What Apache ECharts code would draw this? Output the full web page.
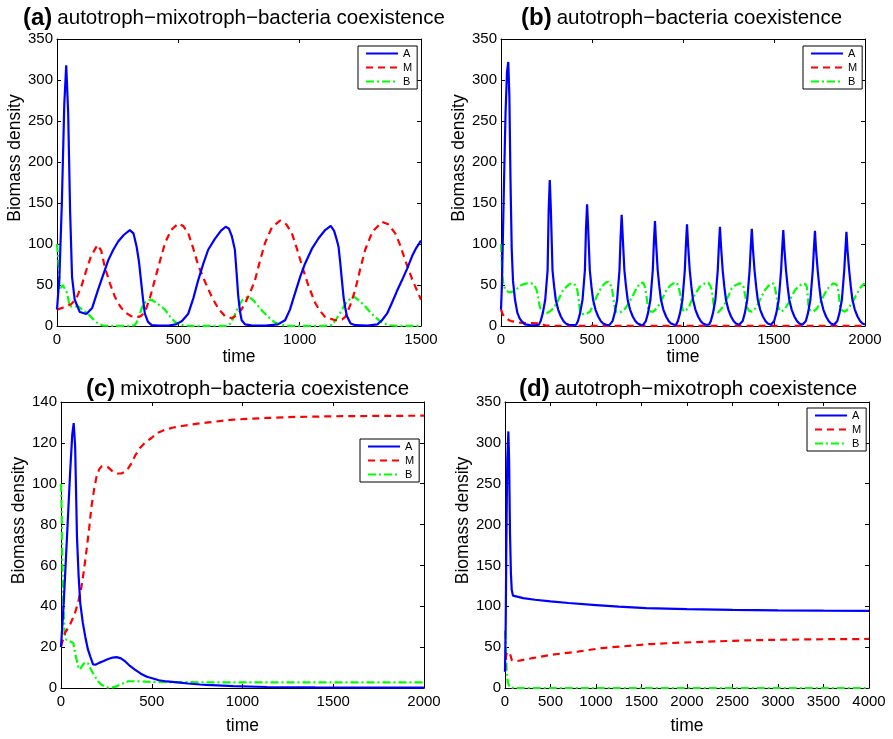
<!DOCTYPE html>
<html>
<head>
<meta charset="utf-8">
<script src="https://cdn.jsdelivr.net/npm/echarts@6/dist/echarts.min.js"></script>
<style>html,body{margin:0;padding:0;background:#fff}#chart{width:893px;height:739px}</style>
</head>
<body>
<div id="chart"></div>
<script>
// ---------- DATA ----------
// Panel (a): autotroph-mixotroph-bacteria coexistence, time 0..1500
const aA = [[0,20],[10,60],[20,150],[30,270],[38,318],[46,260],[54,140],[62,60],[73,32],[94,17],[121,14.6],[145,22],[169,44],[190,62],[211,80],[232,93],[252,103],[275,111],[300,117],[315,113],[328,97],[338,78],[346,56],[354,34],[362,15],[375,5],[390,1],[420,0.5],[460,0.6],[490,2],[515,6],[541,15],[562,34],[582,56],[603,76],[623,93],[650,106],[675,116],[695,121],[708,119],[720,110],[733,93],[740,65],[747,36],[754,18],[761,7],[775,2],[800,0.8],[860,0.5],[910,2],[940,7],[960,20],[981,40],[1002,60],[1022,76],[1050,94],[1078,107],[1105,117],[1128,122],[1142,116],[1152,106],[1160,97],[1167,78],[1174,56],[1181,35],[1188,22],[1195,12],[1210,3],[1230,1],[1280,0.5],[1320,2],[1339,7],[1360,15],[1380,28],[1400,42],[1422,56],[1443,70],[1463,85],[1480,95],[1500,104]];
const aM = [[0,20],[20,22],[40,24],[60,27],[80,34],[100,48],[121,68],[140,85],[167,99],[182,92],[197,72],[218,52],[238,36],[260,24],[280,17],[305,12],[328,10.6],[345,12],[362,17],[382,33],[403,56],[425,80],[445,101],[470,117],[500,125],[520,122],[541,113],[560,96],[582,74],[610,54],[637,36],[665,21],[692,12],[720,9.5],[740,13],[760,20],[775,28],[795,40],[816,56],[837,80],[857,101],[885,120],[919,128.6],[945,124],[968,113],[988,95],[1009,74],[1035,50],[1064,28],[1085,18],[1105,11],[1146,7],[1175,8],[1188,11],[1208,25],[1229,44],[1250,70],[1270,93],[1300,115],[1339,127],[1365,124],[1394,113],[1415,98],[1435,80],[1465,56],[1500,32]];
const aB = [[0,100],[4,99],[8,70],[11,44],[16,45],[24,50],[32,52],[42,40],[52,24],[70,24],[87,24],[105,20],[128,15],[150,8],[169,3],[190,0.5],[230,0.1],[300,0.1],[321,1],[335,8],[345,18],[355,26],[372,31],[390,32],[415,27],[445,20],[465,12],[486,5],[510,1.5],[530,0.3],[600,0.1],[700,0.2],[715,3],[730,12],[747,24],[765,32],[789,36],[810,31],[830,24],[850,17],[871,11],[895,5],[926,1],[960,0.2],[1100,0.2],[1133,1],[1150,8],[1165,15],[1174,20],[1195,30],[1222,36],[1245,31],[1270,24],[1290,17],[1311,11],[1335,5],[1366,1],[1400,0.2],[1500,0.1]];

// Panel (b): autotroph-bacteria coexistence, time 0..2000
const bA = [[0,20],[5,50],[9,93],[16,170],[25,260],[33,310],[40,322],[46,280],[52,180],[59,93],[66,55],[77,32],[90,16],[103,9],[117,5],[132,2],[160,1],[190,0.8],
 [208,1.5],[218,6],[230,16],[243,32],[256,68],[262,142],[268,178],[274,142],[283,68],[292,48],[301,32],[314,20],[329,11.6],[343,6],[356,3],[373,1.5],[390,1],
 [413,1.5],[423,6],[435,16],[448,32],[461,68],[467,119],[473,148.5],[479,119],[488,68],[497,48],[506,32],[519,20],[534,11.6],[548,6],[561,3],[578,1.5],[595,1],
 [603,1.5],[613,6],[625,16],[638,32],[651,68],[657,108],[663,135.5],[669,108],[678,68],[687,48],[696,32],[709,20],[724,11.6],[738,6],[751,3],[768,1.5],[780,1],
 [786,1.5],[796,6],[808,16],[821,32],[834,68],[840,102],[846,128],[852,102],[861,68],[870,48],[879,32],[892,20],[907,11.6],[921,6],[934,3],[951,1.5],
 [962,1.5],[972,6],[984,16],[997,32],[1010,68],[1016,99],[1022,124],[1028,99],[1037,68],[1046,48],[1055,32],[1068,20],[1083,11.6],[1097,6],[1110,3],[1127,1.5],
 [1143,1.5],[1153,6],[1165,16],[1178,32],[1191,68],[1197,97],[1203,121],[1209,97],[1218,68],[1227,48],[1236,32],[1249,20],[1264,11.6],[1278,6],[1291,3],[1308,1.5],
 [1318,1.5],[1328,6],[1340,16],[1353,32],[1366,68],[1372,95],[1378,118.5],[1384,95],[1393,68],[1402,48],[1411,32],[1424,20],[1439,11.6],[1453,6],[1466,3],[1483,1.5],
 [1491,1.5],[1501,6],[1513,16],[1526,32],[1539,68],[1545,94],[1551,117],[1557,94],[1566,68],[1575,48],[1584,32],[1597,20],[1612,11.6],[1626,6],[1639,3],[1656,1.5],
 [1665,1.5],[1675,6],[1687,16],[1700,32],[1713,68],[1719,93],[1725,116],[1731,93],[1740,68],[1749,48],[1758,32],[1771,20],[1786,11.6],[1800,6],[1813,3],[1830,1.5],
 [1838,1.5],[1848,6],[1860,16],[1873,32],[1886,68],[1892,92],[1898,115],[1904,92],[1913,68],[1922,48],[1931,32],[1944,20],[1959,11.6],[1973,6],[1986,3],[2000,1.8]];
const bM = [[0,20],[10,14],[20,11],[29,9],[45,7],[56,6],[80,5],[105,4],[130,3.5],[170,3.5],[203,3.3],[220,2.5],[230,1],[245,0.5],[300,0.3],[600,0.2],[1000,0.2],[1500,0.2],[2000,0.2]];
const bB = [[0,100],[4,80],[8,60],[14,50],[25,44],[45,41],[65,42],[85,45],[105,49],[123,51],[145,52],[169,52],[185,49],[196,44],[204,35],[211,26],[218,20],[224,17.5],[238,15.5],[251,15.5],[270,18],[288,21.6],[306,28],[324,36],[342,44],[361,48],[375,51],[389,52],[403,51.5],[412,50],[419,44],[425,36],[430,26],[434,17.5],[443,14.5],[452,13.4],[470,15],[489,17.5],[507,26],[526,36],[544,44],[562,50],[576,53],[590,54],[600,52],[608,48],[615,38],[621,27.7],[627,21],[632,17.5],[645,16.5],[663,17.5],[677,20],[691,24],[709,31],[727,38],[745,46],[764,52],[782,53],[790,48],[797,40],[803,30],[810,19.5],[823,17.5],[837,17.5],[856,22],[874,27.7],[892,36],[910,44],[928,49],[947,52],[965,53],[975,48],[984,40],[991,30],[998,19.5],[1011,17.5],[1020,17.5],[1034,24],[1048,31.6],[1070,40],[1093,48],[1116,51.5],[1139,53],[1150,49],[1158,44],[1165,32],[1172,19.5],[1194,16.8],[1212,21],[1231,27.7],[1250,37],[1268,46],[1290,50],[1313,52],[1330,50],[1337,48],[1343,36],[1350,23.6],[1363,18.5],[1378,17.5],[1396,21],[1414,27.7],[1432,36],[1451,44],[1470,49],[1487,52],[1500,51.5],[1506,50],[1513,38],[1520,25.6],[1530,19],[1542,17.5],[1560,21],[1579,27.7],[1597,36],[1616,44],[1638,49],[1661,52],[1673,51],[1680,48],[1685,38],[1689,25.6],[1700,19],[1716,17.5],[1735,21],[1753,27.7],[1771,36],[1790,44],[1808,49],[1826,52],[1840,51],[1850,48],[1857,36],[1863,23.6],[1875,19],[1890,17.5],[1908,21],[1927,27.7],[1950,37],[1973,46],[1987,50],[2000,52]];

// Panel (c): mixotroph-bacteria coexistence, time 0..2000
const cA = [[0,20],[15,41.6],[33,74],[50,105],[62,124],[70,129.7],[78,118],[88,74],[97,55],[106,41.6],[120,32],[134,25],[148,19],[161,15.5],[177,11.5],[190,11.4],[210,12.3],[235,13.2],[260,14.2],[285,14.9],[306,15.1],[330,14.5],[354,13],[380,10.8],[407,9],[440,7],[473,5.5],[498,4.9],[540,3.8],[583,3.2],[627,2.9],[700,2.2],[766,1.7],[801,1.5],[950,0.9],[1133,0.5],[1400,0.3],[1700,0.2],[2000,0.15]];
const cM = [[0,20.4],[22,27],[50,31],[77,36.7],[95,42],[113,49.7],[127,58],[141,67.7],[155,78],[168,88.9],[182,97],[196,103.6],[210,107],[223,108.5],[240,108.6],[260,108],[285,106],[310,105],[333,105],[355,106],[370,107.5],[388,110],[410,114],[435,117.5],[462,120],[500,122.5],[535,125],[580,126.7],[620,127.5],[718,129],[810,130],[950,131.4],[1133,132.2],[1300,132.7],[1500,133],[1750,133.2],[2000,133.3]];
const cB = [[0,100],[4,85],[8,60],[13,40],[20,27],[30,23.6],[45,23],[55,23.5],[68,22],[78,17],[86,13.8],[95,10.5],[104,9],[118,11],[132,12.6],[150,12],[168,8.5],[187,5.7],[205,3.2],[223,1.6],[240,0.8],[260,0.2],[285,0.3],[306,0.8],[335,2],[370,3.3],[420,3.3],[500,3],[600,2.9],[800,2.8],[1200,2.8],[1600,2.8],[2000,2.8]];

// Panel (d): autotroph-mixotroph coexistence, time 0..4000
const dA = [[0,20],[8,80],[15,180],[25,280],[37,314],[45,280],[55,189],[65,140],[74,120],[88,113],[103,111],[200,110],[330,108],[500,106],[698,104],[1000,101.5],[1250,99.5],[1550,97.8],[2000,96.5],[2500,95.6],[3000,95],[3500,94.6],[4000,94.3]];
const dM = [[0,20],[8,35],[18,43],[30,42],[45,44],[60,40],[75,34],[95,32],[110,32.5],[300,36.5],[514,40.7],[800,44.5],[1065,48.9],[1300,51],[1597,53.8],[1916,55.5],[2300,57],[2650,58.3],[3000,59],[3384,59.6],[4000,60]];
const dB = [[0,70],[6,60],[12,40],[19,18],[27,10],[37,5],[50,1],[65,0.2],[100,0],[1000,0],[2000,0],[3000,0],[4000,0]];

// Axis ranges / ticks
const xMax = [1500, 2000, 2000, 4000];
const yMax = [350, 350, 140, 350];
const yStep = [50, 50, 20, 50];
const xStep = 500;
const seriesNames = ['A', 'M', 'B'];
const titleTags = ['(a)', '(b)', '(c)', '(d)'];
const titleTexts = ['autotroph\u2212mixotroph\u2212bacteria coexistence', 'autotroph\u2212bacteria coexistence', 'mixotroph\u2212bacteria coexistence', 'autotroph\u2212mixotroph coexistence'];
const panelData = [[aA, aM, aB], [bA, bM, bB], [cA, cM, cB], [dA, dM, dB]];

// ---------- LAYOUT / STYLE ----------
const FONT = '"Liberation Sans", Arial, Helvetica, sans-serif';
const grids = [
  {left: 57, top: 39, width: 364, height: 287},
  {left: 501, top: 39, width: 364, height: 287},
  {left: 61, top: 402, width: 363, height: 286},
  {left: 505, top: 402, width: 364, height: 286}
];
const titlePos = [{left: 18, top: 0}, {left: 516, top: 0}, {left: 81, top: 371}, {left: 514, top: 371}];
const legendPos = [{left: 358, top: 46}, {left: 803, top: 46}, {left: 360, top: 439}, {left: 807, top: 408}];
const xNameGap = [22, 22, 29, 29];
const colors = ['#0000ff', '#ff0000', '#00ff00'];
const dashes = ['solid', [7, 5], [8, 3, 2, 3]];

const option = {
  backgroundColor: '#fff',
  animation: false,
  textStyle: {fontFamily: FONT},
  title: [], grid: [], xAxis: [], yAxis: [], legend: [], series: []
};

function axisLine() { return {show: true, onZero: false, lineStyle: {color: '#000', width: 1}}; }
function tick() { return {show: true, inside: true, length: 4, lineStyle: {color: '#000', width: 1}}; }
const plain = v => String(v);

for (let p = 0; p < 4; p++) {
  option.grid.push(Object.assign({containLabel: false}, grids[p]));
  option.title.push({
    left: titlePos[p].left, top: titlePos[p].top,
    text: '{b|' + titleTags[p] + '} {n|' + titleTexts[p] + '}',
    textStyle: {
      rich: {
        b: {fontFamily: FONT, fontWeight: 'bold', fontSize: 24, color: '#000', lineHeight: 26},
        n: {fontFamily: FONT, fontWeight: 'normal', fontSize: 20.5, color: '#000', lineHeight: 26}
      }
    }
  });
  // bottom x axis
  option.xAxis.push({
    type: 'value', gridIndex: p, min: 0, max: xMax[p], interval: xStep, position: 'bottom',
    name: 'time', nameLocation: 'middle', nameGap: xNameGap[p],
    nameTextStyle: {fontSize: 17.5, color: '#000', fontFamily: FONT},
    axisLine: axisLine(), axisTick: tick(), splitLine: {show: false},
    axisLabel: {fontSize: 15, color: '#000', margin: 6, fontFamily: FONT, formatter: plain}
  });
  // top x axis (ticks only)
  option.xAxis.push({
    type: 'value', gridIndex: p, min: 0, max: xMax[p], interval: xStep, position: 'top',
    axisLine: axisLine(), axisTick: tick(), splitLine: {show: false}, axisLabel: {show: false}
  });
  // left y axis
  option.yAxis.push({
    type: 'value', gridIndex: p, min: 0, max: yMax[p], interval: yStep[p], position: 'left',
    name: 'Biomass density', nameLocation: 'middle', nameGap: 33, nameRotate: 90,
    nameTextStyle: {fontSize: 17.5, color: '#000', fontFamily: FONT, padding: [0, 0, 0, 49]},
    axisLine: axisLine(), axisTick: tick(), splitLine: {show: false},
    axisLabel: {fontSize: 15, color: '#000', margin: 4, fontFamily: FONT, formatter: plain}
  });
  // right y axis (ticks only)
  option.yAxis.push({
    type: 'value', gridIndex: p, min: 0, max: yMax[p], interval: yStep[p], position: 'right',
    axisLine: axisLine(), axisTick: tick(), splitLine: {show: false}, axisLabel: {show: false}
  });
  option.legend.push({
    left: legendPos[p].left, top: legendPos[p].top, orient: 'vertical',
    data: seriesNames, itemWidth: 32, itemHeight: 11, itemGap: 3,
    padding: [2, 5, 2, 7], backgroundColor: '#fff', borderColor: '#000', borderWidth: 1,
    borderRadius: 0, selectedMode: false,
    itemStyle: {color: 'rgba(0,0,0,0)', borderWidth: 0, opacity: 0},
    lineStyle: {width: 2},
    textStyle: {fontSize: 11, color: '#000', fontFamily: FONT, lineHeight: 11}
  });
  for (let s = 0; s < 3; s++) {
    option.series.push({
      type: 'line', name: seriesNames[s], data: panelData[p][s],
      xAxisIndex: p * 2, yAxisIndex: p * 2,
      showSymbol: false, symbol: 'none', smooth: false,
      lineStyle: {color: colors[s], width: 2.2, type: dashes[s]},
      itemStyle: {color: colors[s]},
      z: 3 - s, clip: true
    });
  }
}

const chart = echarts.init(document.getElementById('chart'), null, {renderer: 'canvas'});
chart.setOption(option);
</script>
</body>
</html>
